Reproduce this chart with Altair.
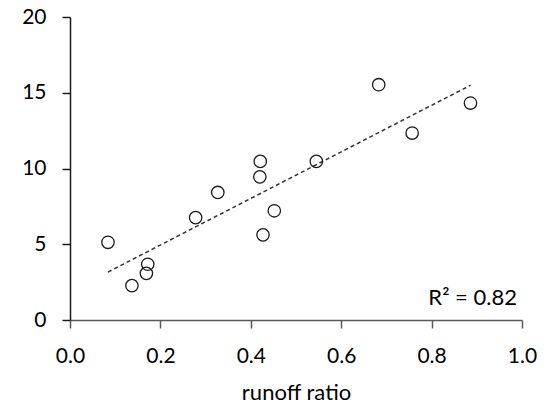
import altair as alt
import pandas as pd

runoff_ratio = [0.084, 0.137, 0.172, 0.169, 0.278, 0.327, 0.421, 0.420, 0.427, 0.452, 0.545, 0.683, 0.757, 0.886]
values = [5.13, 2.27, 3.68, 3.08, 6.76, 8.42, 10.47, 9.45, 5.62, 7.21, 10.47, 15.53, 12.34, 14.32]
x_ticks = [0.0, 0.2, 0.4, 0.6, 0.8, 1.0]
y_ticks = [0, 5, 10, 15, 20]
r2_label = ["R² = 0.82"]

df = pd.DataFrame({"runoff": runoff_ratio, "v": values})
FONT = "Lato"

x_axis = alt.Axis(
    values=x_ticks, format=".1f", grid=False, tickSize=8, tickWidth=1.5,
    domainWidth=1.5, domainColor="#595959", tickColor="#595959",
    labelFont=FONT, labelFontSize=21, labelColor="black", labelPadding=34,
    labelBaseline="alphabetic", labelFlush=False, labelOverlap=False,
    title="runoff ratio", titleFont=FONT, titleFontSize=22, titleFontWeight="normal",
    titleColor="black", titleBaseline="alphabetic", titleY=79,
)
y_axis = alt.Axis(
    values=y_ticks, grid=False, tickSize=8, tickWidth=1.5, domainWidth=1.5,
    domainColor="#1a1a1a", tickColor="#1a1a1a",
    labelFont=FONT, labelFontSize=21, labelColor="black", labelPadding=16,
    labelBaseline="middle", labelFlush=False, labelOverlap=False, title=None,
)

base = alt.Chart(df)
points = base.mark_point(
    shape="circle", filled=False, size=154, stroke="#1a1a1a", strokeWidth=1.3, opacity=1
).encode(
    x=alt.X("runoff:Q", scale=alt.Scale(domain=[0, 1]), axis=x_axis),
    y=alt.Y("v:Q", scale=alt.Scale(domain=[0, 20]), axis=y_axis),
)
line = base.transform_regression("runoff", "v").mark_line(
    strokeDash=[4, 3], color="#333333", strokeWidth=1.5
).encode(x="runoff:Q", y="v:Q")

text = alt.Chart(pd.DataFrame({"t": r2_label})).mark_text(
    align="right", baseline="alphabetic", fontSize=22, font=FONT, color="black"
).encode(x=alt.value(447), y=alt.value(288), text="t:N")

chart = alt.layer(line, points, text).properties(
    width=452, height=303, autosize="none",
    padding={"left": 62, "top": 9, "right": 15, "bottom": 81},
).configure_view(stroke=None)

chart.save("out.html", embed_options={"renderer": "svg", "actions": False})
